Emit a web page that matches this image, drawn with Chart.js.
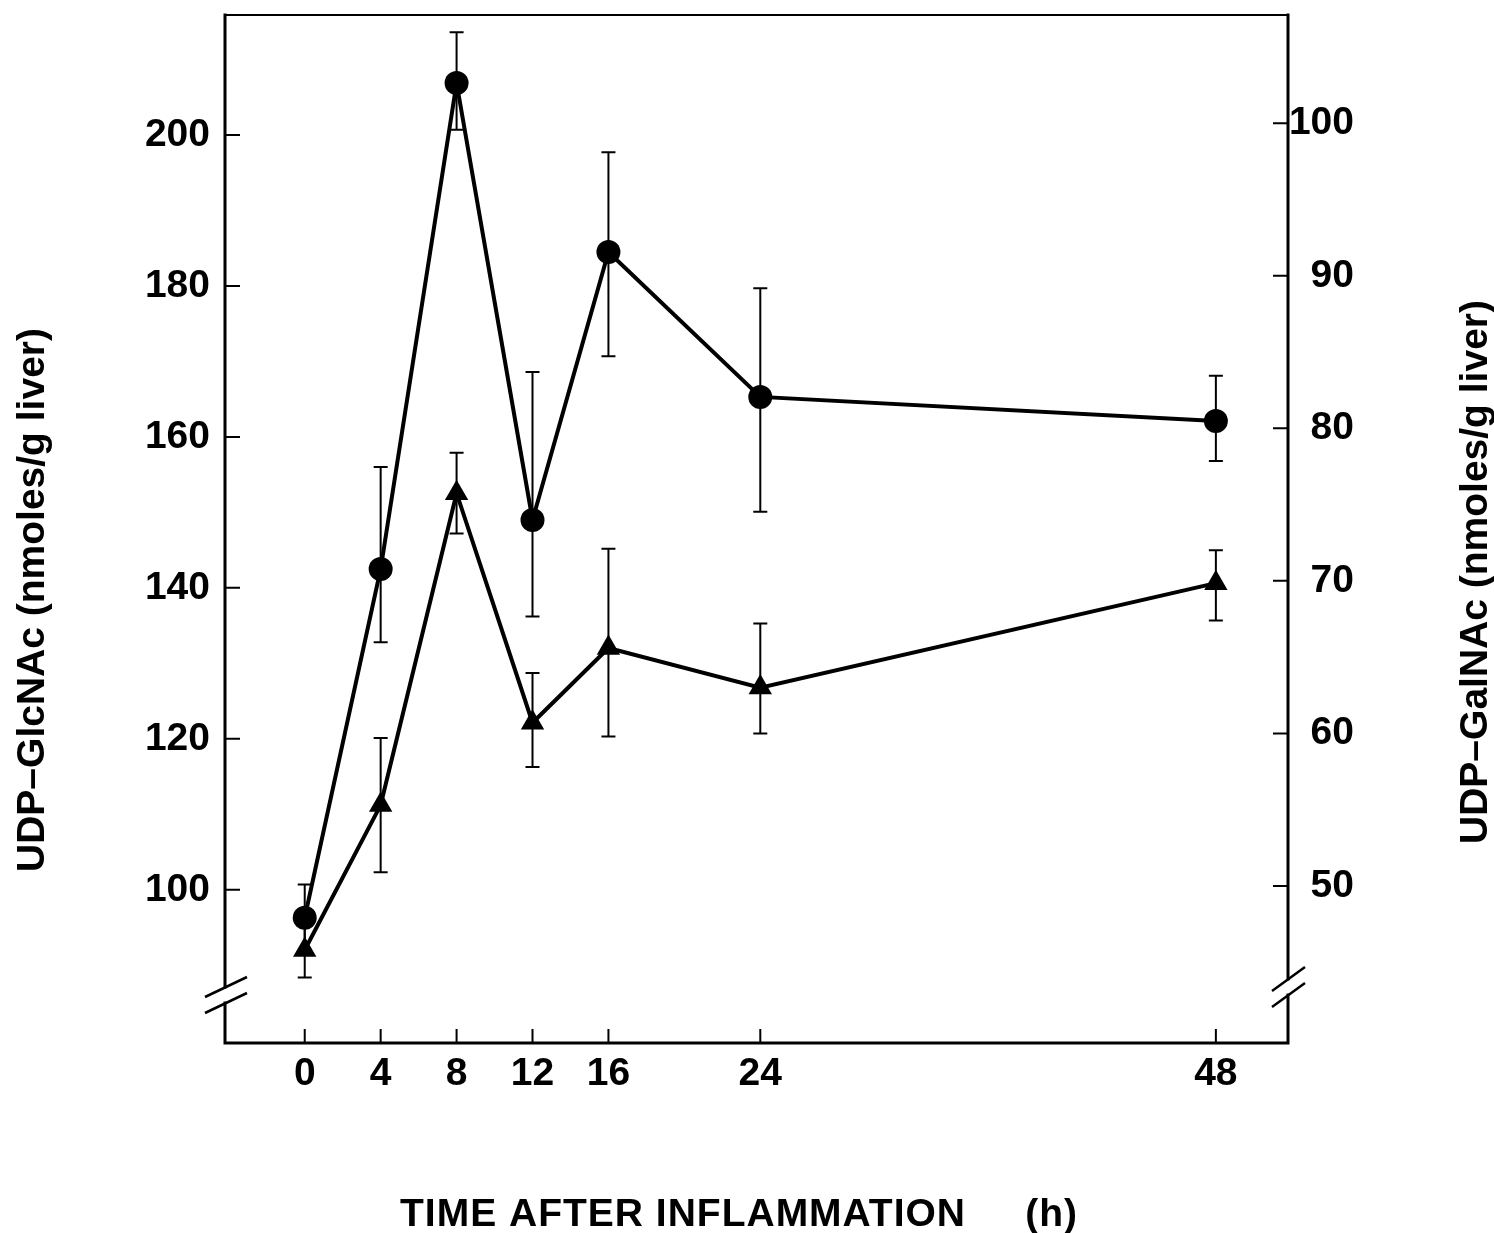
<!DOCTYPE html>
<html>
<head>
<meta charset="utf-8">
<script src="https://cdn.jsdelivr.net/npm/chart.js@4.4.1/dist/chart.umd.min.js"></script>
<style>
  html, body { margin: 0; padding: 0; background: #fff; }
  #wrap { width: 1494px; height: 1233px; position: relative; }
</style>
</head>
<body>
<div id="wrap"><canvas id="chart"></canvas></div>
<script>
// hours after inflammation
const hours = [0, 4, 8, 12, 16, 24, 48];

// UDP-GlcNAc (left axis, circles)
const glcnac   = [96.3, 142.5, 206.9, 149.0, 184.5, 165.3, 162.1];
const glcnacHi = [100.7, 156.0, 213.6, 168.6, 197.7, 179.7, 168.1];
const glcnacLo = [91.9, 132.8, 200.7, 136.2, 170.7, 150.1, 156.8];

// UDP-GalNAc (right axis, triangles)
const galnac   = [45.8, 55.3, 75.75, 60.7, 65.6, 63.0, 69.85];
const galnacHi = [47.6, 59.7, 78.4, 63.96, 72.1, 67.2, 72.0];
const galnacLo = [44.0, 50.9, 73.1, 57.8, 59.8, 60.0, 67.4];

const leftTicks = [100, 120, 140, 160, 180, 200];
const rightTicks = [50, 60, 70, 80, 90, 100];

const xTitle = 'TIME AFTER INFLAMMATION     (h)';
const leftTitle = 'UDP\u2013GlcNAc (nmoles/g liver)';
const rightTitle = 'UDP\u2013GalNAc (nmoles/g liver)';

const tickFont = { family: 'Liberation Sans', size: 39, weight: 'bold' };
const titleFont = 'bold 39px "Liberation Sans"';

const toXY = (ys) => ys.map((y, i) => ({ x: hours[i], y }));

// error bars, drawn from each point up/down to the hi/lo values
const errorBars = {
  id: 'errorBars',
  afterDatasetsDraw(chart) {
    const ctx = chart.ctx;
    const sets = [
      { idx: 0, hi: glcnacHi, lo: glcnacLo, axis: 'yL' },
      { idx: 1, hi: galnacHi, lo: galnacLo, axis: 'yR' },
    ];
    ctx.save();
    ctx.strokeStyle = '#000';
    ctx.lineWidth = 2;
    sets.forEach(s => {
      const meta = chart.getDatasetMeta(s.idx);
      const sc = chart.scales[s.axis];
      meta.data.forEach((pt, i) => {
        const yh = sc.getPixelForValue(s.hi[i]);
        const yl = sc.getPixelForValue(s.lo[i]);
        ctx.beginPath();
        ctx.moveTo(pt.x, yh); ctx.lineTo(pt.x, yl);
        ctx.moveTo(pt.x - 7, yh); ctx.lineTo(pt.x + 7, yh);
        ctx.moveTo(pt.x - 7, yl); ctx.lineTo(pt.x + 7, yl);
        ctx.stroke();
      });
    });
    ctx.restore();
  }
};

// box frame with axis breaks, inward tick marks and titles
const frame = {
  id: 'frame',
  afterDraw(chart) {
    const ctx = chart.ctx;
    const { left, right, top, bottom } = chart.chartArea;
    const x = chart.scales.x, yL = chart.scales.yL, yR = chart.scales.yR;
    ctx.save();
    ctx.strokeStyle = '#000';
    ctx.lineCap = 'square';

    const lb = bottom - 48, rb = bottom - 56;
    ctx.lineWidth = 3;
    ctx.beginPath();
    ctx.moveTo(left, top); ctx.lineTo(left, lb - 8);
    ctx.moveTo(left, lb + 8); ctx.lineTo(left, bottom);
    ctx.lineTo(right, bottom);
    ctx.lineTo(right, rb + 8);
    ctx.moveTo(right, rb - 8); ctx.lineTo(right, top);
    ctx.stroke();
    ctx.lineWidth = 2;
    ctx.beginPath();
    ctx.moveTo(left, top); ctx.lineTo(right, top);
    ctx.stroke();

    // break slashes
    ctx.lineWidth = 2.5;
    ctx.lineCap = 'butt';
    ctx.beginPath();
    [-8, 8].forEach(d => {
      ctx.moveTo(left - 20, lb + d + 10); ctx.lineTo(left + 22, lb + d - 10);
      ctx.moveTo(right - 16, rb + d + 12); ctx.lineTo(right + 17, rb + d - 12);
    });
    ctx.stroke();

    // inward ticks
    ctx.lineWidth = 2;
    ctx.beginPath();
    leftTicks.forEach(v => {
      const p = yL.getPixelForValue(v);
      ctx.moveTo(left, p); ctx.lineTo(left + 15, p);
    });
    rightTicks.forEach(v => {
      const p = yR.getPixelForValue(v);
      ctx.moveTo(right, p); ctx.lineTo(right - 15, p);
    });
    hours.forEach(v => {
      const p = x.getPixelForValue(v);
      ctx.moveTo(p, bottom); ctx.lineTo(p, bottom - 14);
    });
    ctx.stroke();

    // titles
    ctx.fillStyle = '#000';
    ctx.font = titleFont;
    ctx.textBaseline = 'alphabetic';
    ctx.textAlign = 'left';
    ctx.letterSpacing = '1px';
    ctx.fillText(xTitle, 400, 1226);
    ctx.letterSpacing = '0px';

    ctx.textAlign = 'center';
    ctx.save();
    ctx.translate(44, 600);
    ctx.rotate(-Math.PI / 2);
    ctx.fillText(leftTitle, 0, 0);
    ctx.restore();

    ctx.save();
    ctx.translate(1487, 572);
    ctx.rotate(-Math.PI / 2);
    ctx.fillText(rightTitle, 0, 0);
    ctx.restore();

    ctx.restore();
  }
};

const noPad = (s) => { s.paddingTop = 0; s.paddingBottom = 0; };

new Chart(document.getElementById('chart').getContext('2d'), {
  type: 'line',
  data: {
    datasets: [
      {
        label: 'UDP-GlcNAc',
        data: toXY(glcnac),
        yAxisID: 'yL',
        borderColor: '#000',
        backgroundColor: '#000',
        borderWidth: 4,
        pointStyle: 'circle',
        pointRadius: 12,
        pointBorderWidth: 0,
        tension: 0,
      },
      {
        label: 'UDP-GalNAc',
        data: toXY(galnac),
        yAxisID: 'yR',
        borderColor: '#000',
        backgroundColor: '#000',
        borderWidth: 4,
        pointStyle: 'triangle',
        pointRadius: 13.5,
        pointBorderWidth: 0,
        tension: 0,
      },
    ],
  },
  options: {
    responsive: true,
    maintainAspectRatio: false,
    animation: false,
    layout: { padding: { top: 15, left: 0, right: 140, bottom: 0 } },
    plugins: { legend: { display: false }, tooltip: { enabled: false } },
    scales: {
      x: {
        type: 'linear',
        min: -4.2,
        max: 51.8,
        afterBuildTicks: (s) => { s.ticks = hours.map(v => ({ value: v })); },
        afterFit: (s) => { s.height = 190; s.paddingLeft = 0; s.paddingRight = 0; },
        grid: { display: false, drawTicks: false },
        border: { display: false },
        ticks: { color: '#000', font: tickFont, padding: 8, maxRotation: 0, autoSkip: false },
      },
      yL: {
        type: 'linear',
        position: 'left',
        min: 79.7,
        max: 215.9,
        afterBuildTicks: (s) => { s.ticks = leftTicks.map(v => ({ value: v })); },
        afterFit: (s) => { s.width = 225; noPad(s); },
        grid: { display: false, drawTicks: false },
        border: { display: false },
        ticks: { color: '#000', font: tickFont, padding: 15 },
      },
      yR: {
        type: 'linear',
        position: 'right',
        min: 39.7,
        max: 107.1,
        afterBuildTicks: (s) => { s.ticks = rightTicks.map(v => ({ value: v })); },
        afterFit: (s) => { s.width = 66; noPad(s); },
        grid: { display: false, drawTicks: false },
        border: { display: false },
        ticks: { color: '#000', font: tickFont, padding: 0, crossAlign: 'far' },
      },
    },
  },
  plugins: [errorBars, frame],
});
</script>
</body>
</html>
